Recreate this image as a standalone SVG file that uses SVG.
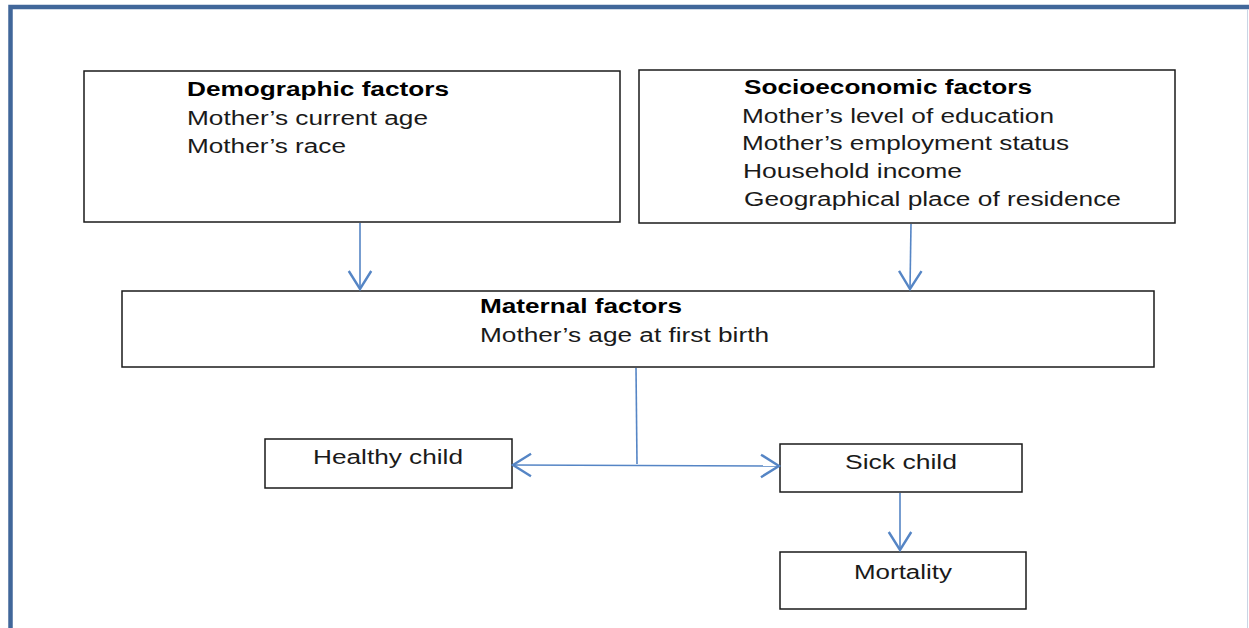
<svg xmlns="http://www.w3.org/2000/svg" width="1249" height="628" viewBox="0 0 1249 628">
<style>
.box{fill:#fff;stroke:#1a1a1a;stroke-width:1.5}
.t{font-family:"Liberation Sans",Arial,sans-serif;font-size:20px;fill:#1a1a1a}
.b{font-weight:bold;fill:#000}
.c{fill:none;stroke:#5585c5;stroke-width:1.6}
</style>
<defs>
<marker id="ah" markerUnits="userSpaceOnUse" markerWidth="30" markerHeight="30" viewBox="-16 -10 20 20" refX="0" refY="0" orient="auto-start-reverse">
<path d="M-12,-7.5 L0,0 L-12,7.5" fill="none" stroke="#5585c5" stroke-width="1.6"/>
</marker>
</defs>
<rect x="0" y="0" width="1249" height="628" fill="#fff"/>
<rect id="frame" x="10.5" y="7" width="1242" height="640" fill="none" stroke="#41679a" stroke-width="4.5"/>
<line x1="1247.5" y1="9" x2="1247.5" y2="628" stroke="#c9d5e5" stroke-width="1"/>

<g id="demographic">
<rect class="box" x="84" y="71" width="536" height="151"/>
<text class="t b" x="187" y="96" textLength="262" lengthAdjust="spacingAndGlyphs">Demographic factors</text>
<text class="t" x="187" y="125" textLength="241" lengthAdjust="spacingAndGlyphs">Mother’s current age</text>
<text class="t" x="187" y="153" textLength="159" lengthAdjust="spacingAndGlyphs">Mother’s race</text>
</g>

<g id="socioeconomic">
<rect class="box" x="639" y="70" width="536" height="153"/>
<text class="t b" x="744" y="94" textLength="288" lengthAdjust="spacingAndGlyphs">Socioeconomic factors</text>
<text class="t" x="742" y="123" textLength="312" lengthAdjust="spacingAndGlyphs">Mother’s level of education</text>
<text class="t" x="742" y="150" textLength="327" lengthAdjust="spacingAndGlyphs">Mother’s employment status</text>
<text class="t" x="743" y="178" textLength="219" lengthAdjust="spacingAndGlyphs">Household income</text>
<text class="t" x="744" y="206" textLength="377" lengthAdjust="spacingAndGlyphs">Geographical place of residence</text>
</g>

<g id="maternal">
<rect class="box" x="122" y="291" width="1032" height="76"/>
<text class="t b" x="480" y="313" textLength="202" lengthAdjust="spacingAndGlyphs">Maternal factors</text>
<text class="t" x="480" y="342" textLength="289" lengthAdjust="spacingAndGlyphs">Mother’s age at first birth</text>
</g>

<g id="healthy">
<rect class="box" x="265" y="439" width="247" height="49"/>
<text class="t" x="313" y="464" textLength="150" lengthAdjust="spacingAndGlyphs">Healthy child</text>
</g>

<g id="sick">
<rect class="box" x="780" y="444" width="242" height="48"/>
<text class="t" x="845" y="469" textLength="112" lengthAdjust="spacingAndGlyphs">Sick child</text>
</g>

<g id="mortality">
<rect class="box" x="780" y="552" width="246" height="57"/>
<text class="t" x="854" y="579" textLength="98" lengthAdjust="spacingAndGlyphs">Mortality</text>
</g>

<g id="connectors">
<line class="c" x1="360" y1="223" x2="360" y2="289" marker-end="url(#ah)"/>
<line class="c" x1="911" y1="224" x2="910" y2="289" marker-end="url(#ah)"/>
<line class="c" x1="636" y1="368" x2="637" y2="464"/>
<line class="c" x1="513" y1="465" x2="779" y2="466" marker-start="url(#ah)" marker-end="url(#ah)"/>
<line class="c" x1="900" y1="493" x2="900" y2="550" marker-end="url(#ah)"/>
</g>
</svg>
